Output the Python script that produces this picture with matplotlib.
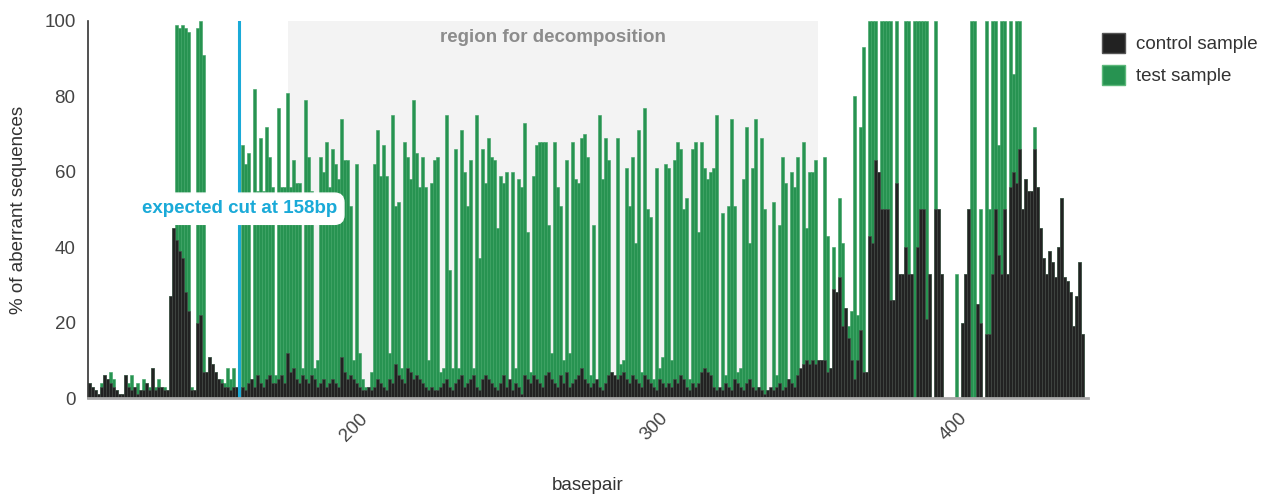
import numpy as np
import matplotlib
matplotlib.use("Agg")
import matplotlib.pyplot as plt
from matplotlib.patches import Patch

plt.rcParams['font.family'] = ['Liberation Sans', 'DejaVu Sans']

# one bar per basepair, 108..439
basepair = np.arange(108, 440)

test_sample = [
    # 108-158
    4, 3, 2, 1, 4, 6, 5, 7, 5, 2,
    1, 1, 6, 4, 6, 3, 4, 2, 5, 4,
    3, 8, 3, 5, 3, 3, 2, 27, 45, 99,
    98, 99, 98, 97, 3, 2, 98, 100, 91,
    7, 11, 9, 7, 5, 5, 4, 8, 5, 8, 3, 3,
    # 159-188
    67, 62, 65, 5, 82, 55, 69, 55, 72, 64,
    56, 6, 77, 56, 56, 81, 56, 63, 57, 57,
    8, 79, 64, 55, 8, 10, 64, 60, 68, 56,
    # 189-231
    66, 62, 58, 74, 63, 63, 51, 10, 62, 12,
    5, 3, 3, 7, 62, 71, 59, 67, 59, 12,
    75, 51, 52, 8, 68, 64, 58, 79, 65, 56,
    64, 56, 10, 57, 63, 64, 7, 8, 75, 34,
    8, 66, 8,
    # 232-275
    71, 60, 51, 63, 8, 75, 37, 66, 57, 69,
    64, 63, 45, 59, 57, 60, 4, 60, 8, 58,
    56, 73, 44, 7, 59, 67, 68, 68, 68, 46,
    12, 68, 56, 51, 10, 63, 12, 68, 58, 57,
    69, 70, 64, 6,
    # 276-316
    46, 3, 75, 58, 69, 63, 7, 5, 69, 9,
    10, 61, 51, 64, 41, 71, 7, 77, 50, 48,
    5, 61, 8, 11, 62, 61, 10, 63, 68, 66,
    50, 53, 5, 66, 68, 44, 68, 61, 58, 60,
    61,
    # 317-351
    75, 2, 49, 6, 51, 74, 51, 7, 8, 58,
    72, 41, 61, 74, 3, 69, 50, 2, 2, 52,
    6, 46, 64, 57, 5, 60, 56, 64, 7, 68,
    45, 60, 60, 63, 10,
    # 352-398
    10, 64, 43, 8, 40, 28, 53, 41, 24, 19,
    23, 80, 22, 72, 93, 7, 100, 100, 100, 60,
    100, 100, 100, 100, 26, 100, 33, 33, 100, 100,
    33, 100, 100, 100, 100, 100, 33, 0, 100, 50,
    33, 0, 0, 0, 0, 33, 0,
    # 399-419
    20, 33, 50, 100, 100, 25, 50, 0, 100, 50,
    100, 100, 67, 100, 100, 33, 100, 86, 100, 100,
    50,
    # 420-439
    58, 55, 55, 72, 56, 45, 37, 33, 39, 36,
    32, 40, 53, 32, 31, 28, 19, 27, 36, 17,
]

control_sample = [
    # 108-158
    4, 3, 2, 1, 3, 6, 5, 4, 3, 2,
    1, 1, 6, 3, 2, 3, 1, 2, 2, 4,
    2, 8, 2, 3, 3, 2, 2, 27, 45, 42,
    39, 37, 28, 23, 2, 2, 20, 22, 7,
    7, 11, 9, 7, 5, 4, 3, 3, 2, 3, 3, 2,
    # 159-188
    3, 2, 4, 5, 3, 6, 4, 3, 5, 6,
    4, 4, 5, 6, 4, 12, 7, 8, 5, 4,
    6, 5, 4, 6, 5, 3, 4, 5, 3, 4,
    # 189-231
    5, 4, 3, 11, 7, 5, 6, 5, 4, 3,
    2, 2, 3, 2, 3, 5, 4, 3, 2, 5,
    4, 9, 6, 5, 4, 8, 7, 5, 6, 5,
    4, 3, 2, 3, 2, 2, 3, 4, 5, 3,
    2, 4, 5,
    # 232-275
    6, 3, 4, 5, 6, 3, 2, 5, 6, 5,
    4, 3, 2, 4, 6, 3, 5, 2, 4, 3,
    1, 6, 5, 4, 6, 5, 4, 3, 6, 7,
    5, 4, 3, 6, 4, 7, 3, 4, 5, 6,
    8, 5, 4, 3,
    # 276-316
    4, 5, 3, 2, 4, 6, 7, 6, 5, 6,
    7, 5, 4, 6, 5, 4, 3, 6, 5, 4,
    3, 2, 5, 4, 3, 4, 3, 5, 4, 6,
    5, 3, 2, 4, 3, 4, 7, 8, 7, 6,
    3,
    # 317-351
    2, 3, 2, 4, 3, 2, 5, 4, 3, 2,
    4, 5, 3, 2, 3, 2, 1, 2, 3, 2,
    3, 4, 2, 3, 5, 4, 3, 6, 8, 9,
    10, 9, 10, 9, 10,
    # 352-398
    10, 10, 7, 8, 29, 28, 32, 19, 24, 16,
    10, 5, 10, 18, 7, 7, 43, 41, 63, 60,
    50, 50, 50, 26, 26, 57, 33, 33, 40, 33,
    33, 0, 40, 50, 50, 21, 33, 0, 50, 50,
    33, 0, 0, 0, 0, 0, 0,
    # 399-419
    20, 33, 50, 0, 0, 25, 20, 0, 17, 17,
    33, 50, 38, 33, 50, 33, 56, 60, 57, 66,
    50,
    # 420-439
    58, 55, 55, 66, 56, 45, 37, 33, 39, 36,
    32, 40, 53, 32, 31, 28, 19, 27, 36, 17,
]

cut_site = 158
region = (174.3, 351.0)

green = '#279351'
dark = '#222222'
cyan = '#1aaad8'
fs = 13.5

fig = plt.figure(figsize=(12.72, 4.99), dpi=100)
ax = fig.add_axes([0.0692, 0.2024, 0.7862, 0.7556])

ax.axvspan(region[0], region[1], color='#f3f3f3', zorder=0, lw=0)
ax.text((region[0] + region[1]) / 2, 95.5, 'region for decomposition', ha='center', va='center',
        fontsize=fs, fontweight='bold', color='#8c8c8c', zorder=1)

ax.bar(basepair, test_sample, width=1.0, color=green, edgecolor='#3aa262', linewidth=0.4, zorder=2)
ax.bar(basepair, control_sample, width=1.0, color=dark, edgecolor='#4a4a4a', linewidth=0.4, zorder=3)

ax.axvline(cut_site, color=cyan, lw=2.2, zorder=4)
ax.text(cut_site, 50.2, 'expected cut at 158bp', ha='center', va='center', fontsize=fs,
        fontweight='bold', color=cyan, zorder=5,
        bbox=dict(boxstyle='round,pad=0.38,rounding_size=0.5', fc='white', ec='white'))

ax.set_xlim(107.6, 441)
ax.set_ylim(0, 100)
ax.set_xticks([200, 300, 400])
ax.set_yticks([0, 20, 40, 60, 80, 100])
ax.tick_params(axis='both', length=0, labelsize=fs, labelcolor='#444444')
ax.tick_params(axis='y', pad=9)
ax.tick_params(axis='x', pad=13)
for lab in ax.get_xticklabels():
    lab.set_rotation(45)
    lab.set_rotation_mode('anchor')
    lab.set_ha('right')
    lab.set_va('center')

for s in ['top', 'right']:
    ax.spines[s].set_visible(False)
ax.spines['left'].set_color('#333333')
ax.spines['left'].set_linewidth(1.2)
ax.spines['bottom'].set_color('#aaaaaa')
ax.spines['bottom'].set_linewidth(2)
ax.spines['left'].set_zorder(6)
ax.spines['bottom'].set_zorder(6)

ax.set_ylabel('% of aberrant sequences', fontsize=fs, color='#333333', va='center')
ax.yaxis.set_label_coords(-0.07, 0.5)
ax.set_xlabel('basepair', fontsize=fs, color='#333333', va='center')
ax.xaxis.set_label_coords(0.5, -0.231)

handles = [Patch(facecolor=dark, edgecolor='#555555', label='control sample'),
           Patch(facecolor=green, edgecolor='#5cb87a', label='test sample')]
fig.legend(handles=handles, loc='upper left', bbox_to_anchor=(1102 / 1272, 1 - 33 / 499),
           frameon=False, fontsize=fs, handlelength=1.25, handleheight=1.25,
           handletextpad=0.55, labelspacing=0.62, borderpad=0, borderaxespad=0,
           labelcolor='#333333')

fig.savefig('out.png', dpi=100)
